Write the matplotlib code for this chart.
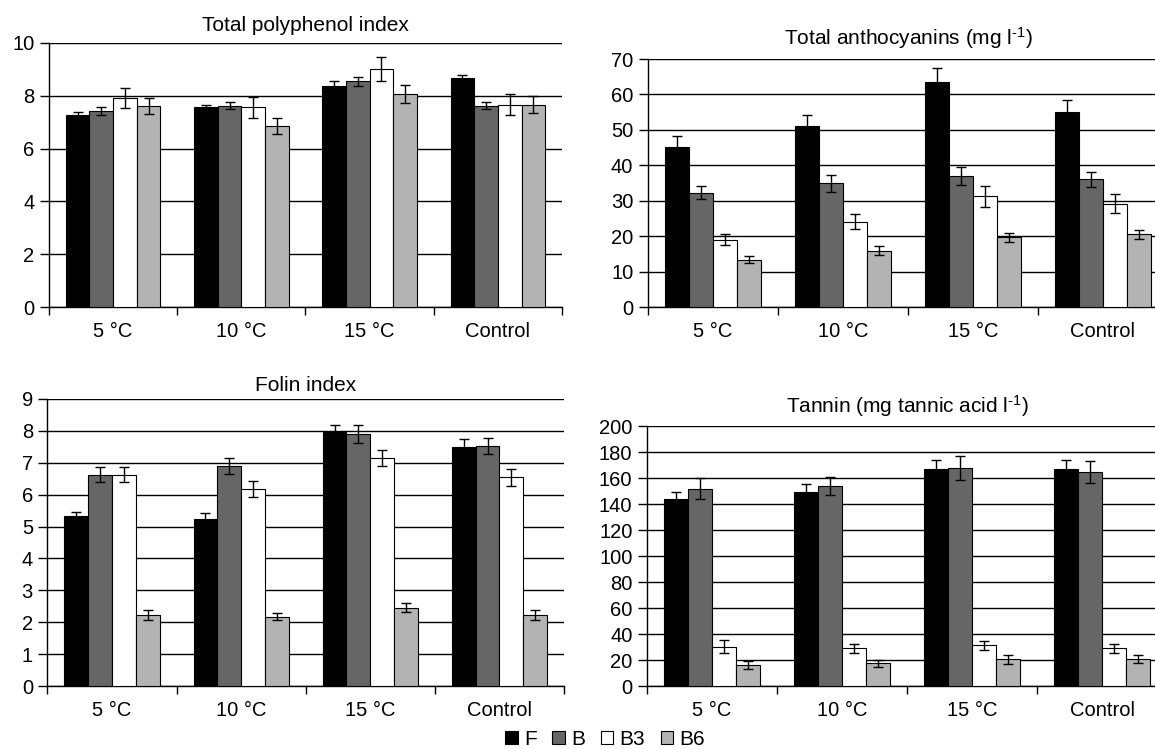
import numpy as np
import matplotlib
matplotlib.use("Agg")
import matplotlib.pyplot as plt
from matplotlib.patches import Patch

plt.rcParams['font.family'] = ['Liberation Sans', 'DejaVu Sans']
plt.rcParams['mathtext.fontset'] = 'custom'
plt.rcParams['mathtext.rm'] = 'Liberation Sans'
plt.rcParams['mathtext.it'] = 'Liberation Sans'

categories = ['5 °C', '10 °C', '15 °C', 'Control']
series = ['F', 'B', 'B3', 'B6']
colors = ['#000000', '#666666', '#ffffff', '#b3b3b3']

# Total polyphenol index (rows = series F, B, B3, B6; cols = categories)
tpi = [[7.28, 7.57, 8.38, 8.67],
       [7.44, 7.62, 8.55, 7.62],
       [7.91, 7.56, 9.02, 7.67],
       [7.62, 6.85, 8.07, 7.67]]
tpi_err = [[0.10, 0.10, 0.17, 0.10],
           [0.15, 0.13, 0.18, 0.13],
           [0.37, 0.40, 0.45, 0.40],
           [0.30, 0.30, 0.35, 0.33]]

# Total anthocyanins
anth = [[45.2, 51.1, 63.6, 55.0],
        [32.3, 34.9, 37.0, 36.0],
        [19.0, 24.1, 31.2, 29.2],
        [13.3, 15.9, 19.7, 20.5]]
anth_err = [[3.0, 3.0, 3.8, 3.4],
            [1.9, 2.5, 2.6, 2.2],
            [1.5, 2.1, 3.0, 2.6],
            [1.0, 1.2, 1.3, 1.3]]

# Folin index
folin = [[5.33, 5.23, 7.95, 7.51],
         [6.63, 6.91, 7.90, 7.54],
         [6.63, 6.19, 7.15, 6.54],
         [2.22, 2.17, 2.46, 2.22]]
folin_err = [[0.14, 0.18, 0.23, 0.22],
             [0.23, 0.25, 0.28, 0.25],
             [0.23, 0.25, 0.25, 0.28],
             [0.15, 0.11, 0.15, 0.15]]

# Tannin
tannin = [[143.5, 149.4, 166.8, 166.8],
          [151.7, 154.0, 167.8, 164.5],
          [30.2, 28.9, 31.5, 28.9],
          [16.1, 17.4, 20.7, 20.5]]
tannin_err = [[6.0, 6.0, 7.0, 7.0],
              [8.0, 7.0, 9.5, 8.5],
              [5.0, 3.5, 3.5, 3.5],
              [3.0, 2.5, 3.5, 3.0]]

sup = r'$^{\text{-1}}$'
panels = [
    ('Total polyphenol index', tpi, tpi_err, 10, 2, [0.0424, 0.5901, 0.4442, 0.3525], 8.6),
    ('Total anthocyanins (mg l' + sup + ')', anth, anth_err, 70, 10, [0.5610, 0.5901, 0.4502, 0.3311], 10),
    ('Folin index', folin, folin_err, 9, 1, [0.0411, 0.0841, 0.4472, 0.3832], 6),
    ('Tannin (mg tannic acid l' + sup + ')', tannin, tannin_err, 200, 20, [0.5602, 0.0841, 0.4502, 0.3471], 9.5),
]

fig = plt.figure(figsize=(11.55, 7.49), dpi=100)

x = np.arange(len(categories))
w = 0.1845
for title, vals, errs, ymax, step, pos, tpad in panels:
    ax = fig.add_axes(pos)
    for i in range(len(series)):
        ax.bar(x + (i - 1.5) * w, vals[i], w, yerr=errs[i], color=colors[i],
               edgecolor='black', linewidth=0.8, zorder=3,
               error_kw=dict(ecolor='black', elinewidth=1.0, capsize=3.5, capthick=1.0))
    ax.set_xlim(-0.5, 3.5)
    ax.set_ylim(0, ymax)
    ax.set_yticks(np.arange(0, ymax + step / 2, step))
    ax.yaxis.grid(True, color='black', linewidth=1.0, zorder=0)
    ax.set_axisbelow(True)
    ax.set_xticks([-0.5, 0.5, 1.5, 2.5, 3.5])
    ax.set_xticklabels([])
    ax.set_xticks(x, minor=True)
    ax.set_xticklabels(categories, minor=True)
    ax.tick_params(axis='x', which='minor', length=0, pad=11, labelsize=14.5)
    ax.tick_params(axis='x', which='major', direction='out', length=6, width=1)
    ax.tick_params(axis='y', direction='out', length=6.5, width=1, labelsize=14.5, pad=4)
    for s in ['top', 'right']:
        ax.spines[s].set_visible(False)
    for s in ['left', 'bottom']:
        ax.spines[s].set_linewidth(1.0)
    ax.set_title(title, fontsize=15, pad=tpad)

handles = [Patch(facecolor=c, edgecolor='black', linewidth=0.8) for c in colors]
fig.legend(handles, series, loc='center', bbox_to_anchor=(0.524, 0.013), ncol=4,
           frameon=False, fontsize=15, handlelength=0.6, handleheight=0.6,
           handletextpad=0.3, columnspacing=0.75)

fig.savefig('out.png', dpi=100)
